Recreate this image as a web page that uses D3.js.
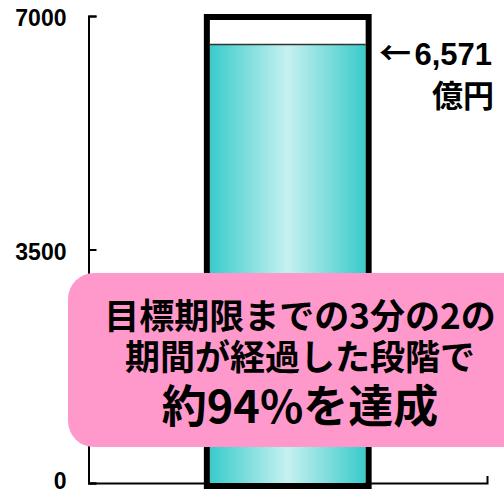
<!DOCTYPE html>
<html><head><meta charset="utf-8">
<script src="https://cdn.jsdelivr.net/npm/d3@7"></script>
<style>body{margin:0;background:#fff}svg{display:block}</style>
</head><body>
<script>
const categories = ["目標"];
const targetValues = [7000];
const achievedValues = [6571];
const yTicks = [0, 3500, 7000];
const valueLabel = ["←", "6,571"];
const unitLabel = "億円";
const noteLines = ["目標期限までの3分の2の", "期間が経過した段階で", "約94%を達成"];

const W = 504, H = 493;
const svg = d3.select("body").append("svg").attr("width", W).attr("height", H);
const defs = svg.append("defs");
const grad = defs.append("linearGradient").attr("id", "g").attr("x1", "0").attr("x2", "1").attr("y1", "0").attr("y2", "0");
[[0, "#3acbcb"], [0.5, "#c6f1f0"], [1, "#3acbcb"]].forEach(([o, c]) => grad.append("stop").attr("offset", o).attr("stop-color", c));

const y = d3.scaleLinear().domain([0, 7000]).range([483, 16]);
const x = d3.scaleBand().domain(categories).range([88.5, 487]).paddingInner(0).paddingOuter(0.6875);

const yAxis = d3.axisLeft(y).tickValues(yTicks).tickFormat(d3.format("d")).tickSize(-8).tickSizeOuter(-8).tickPadding(22);
const gy = svg.append("g").attr("transform", "translate(88.5,0)").call(yAxis);
gy.selectAll("path,line").attr("stroke", "#000").attr("stroke-width", 2);
gy.selectAll("text").attr("font-family", "Liberation Sans, Arial, sans-serif").attr("font-weight", "bold").attr("font-size", 23).attr("fill", "#000")
  .attr("dy", d => d === 0 ? "0.25em" : "0.42em");

const xAxis = d3.axisBottom(x).tickValues([]).tickSize(0).tickSizeOuter(-7);
const gx = svg.append("g").attr("transform", `translate(0,${y(0)})`).call(xAxis);
gx.selectAll("path").attr("stroke", "#000").attr("stroke-width", 2);

const bw = x.bandwidth();
// achieved fill
svg.selectAll(".fill").data(categories).join("rect")
  .attr("x", d => x(d) + 6).attr("width", bw - 12)
  .attr("y", (d, i) => y(achievedValues[i])).attr("height", (d, i) => y(0) - y(achievedValues[i]))
  .attr("fill", "url(#g)");
svg.selectAll(".topline").data(categories).join("line")
  .attr("x1", d => x(d) + 6).attr("x2", d => x(d) + bw - 6)
  .attr("y1", (d, i) => y(achievedValues[i])).attr("y2", (d, i) => y(achievedValues[i]))
  .attr("stroke", "#333").attr("stroke-width", 1.5);
// target box
svg.selectAll(".target").data(categories).join("rect")
  .attr("x", d => x(d) + 3).attr("width", bw - 6)
  .attr("y", (d, i) => y(targetValues[i]) + 1).attr("height", (d, i) => y(0) - y(targetValues[i]) + 2)
  .attr("fill", "none").attr("stroke", "#000").attr("stroke-width", 6);

// value label
svg.append("text").attr("x", 379).attr("y", 64).attr("text-anchor", "start")
  .attr("font-family", "Noto Sans CJK JP").attr("font-weight", "bold").attr("font-size", 31).attr("fill", "#000")
  .attr("textLength", 32).attr("lengthAdjust", "spacingAndGlyphs").text(valueLabel[0]);
svg.append("text").attr("x", 492).attr("y", 65).attr("text-anchor", "end")
  .attr("font-family", "Liberation Sans, Arial, sans-serif").attr("font-weight", "bold").attr("font-size", 31).attr("fill", "#000")
  .text(valueLabel[1]);
svg.append("text").attr("x", 494).attr("y", 107).attr("text-anchor", "end")
  .attr("font-family", "Noto Sans CJK JP").attr("font-weight", "bold").attr("font-size", 31).attr("fill", "#000").text(unitLabel);

// note box
svg.append("rect").attr("x", 68).attr("y", 273).attr("width", 480).attr("height", 174).attr("rx", 26)
  .attr("fill", "#ff99cc");
const sizes = [35, 35, 45], baselines = [329, 370, 423];
noteLines.forEach((t, i) => {
  svg.append("text").attr("x", 300).attr("y", baselines[i]).attr("text-anchor", "middle")
    .attr("font-family", "Noto Sans CJK JP").attr("font-weight", "bold").attr("font-size", sizes[i])
    .attr("fill", "#000").text(t);
});
</script>
</body></html>
